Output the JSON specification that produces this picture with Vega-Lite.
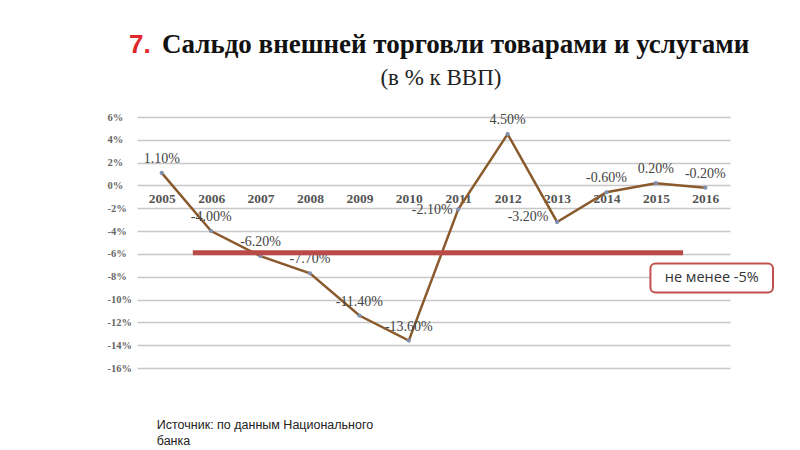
{
  "$schema": "https://vega.github.io/schema/vega-lite/v6.json",
  "width": 593,
  "height": 251,
  "autosize": "none",
  "padding": {"left": 137, "top": 117, "right": 70, "bottom": 82},
  "background": "white",
  "config": {
    "view": {"stroke": null},
    "locale": {"number": {"decimal": ".", "thousands": ",", "grouping": [3], "currency": ["$", ""], "minus": "-"}}
  },
  "layer": [
    {
      "data": {"values": [
        {"year": "2005", "v": 0.011},
        {"year": "2006", "v": -0.04},
        {"year": "2007", "v": -0.062},
        {"year": "2008", "v": -0.077},
        {"year": "2009", "v": -0.114},
        {"year": "2010", "v": -0.136},
        {"year": "2011", "v": -0.021},
        {"year": "2012", "v": 0.045},
        {"year": "2013", "v": -0.032},
        {"year": "2014", "v": -0.006},
        {"year": "2015", "v": 0.002},
        {"year": "2016", "v": -0.002}
      ]},
      "encoding": {
        "x": {
          "field": "year", "type": "ordinal",
          "axis": {"orient": "bottom", "offset": -182, "title": null, "domain": false, "ticks": false, "labelAngle": 0, "labelPadding": 5, "labelFont": "Liberation Serif", "labelFontSize": 13.5, "labelFontWeight": "bold", "labelColor": "#555555", "grid": false}
        },
        "y": {
          "field": "v", "type": "quantitative",
          "scale": {"domain": [-0.16, 0.06], "nice": false, "zero": false},
          "axis": {"title": null, "values": [-0.16, -0.14, -0.12, -0.1, -0.08, -0.06, -0.04, -0.02, 0, 0.02, 0.04, 0.06], "format": ".0%", "labelOverlap": false, "labelBound": false, "grid": true, "gridColor": "#c8c8c8", "gridWidth": 1.5, "domain": false, "ticks": false, "labelAlign": "left", "labelPadding": 30, "labelFont": "Liberation Serif", "labelFontSize": 10.5, "labelFontWeight": "bold", "labelColor": "#666666"}
        }
      },
      "layer": [
        {"mark": {"type": "line", "color": "#8a5a2c", "strokeWidth": 2.5}},
        {"mark": {"type": "point", "filled": true, "size": 18, "color": "#7f8fb0", "opacity": 1}},
        {
          "transform": [{"filter": "datum.year != '2011' && datum.year != '2013'"}],
          "mark": {"type": "text", "dy": -14, "font": "Liberation Serif", "fontSize": 14, "color": "#444444"},
          "encoding": {"text": {"field": "v", "type": "quantitative", "format": ".2%"}}
        },
        {
          "transform": [{"filter": "datum.year == '2011'"}],
          "mark": {"type": "text", "dx": -26, "dy": 1, "font": "Liberation Serif", "fontSize": 14, "color": "#444444"},
          "encoding": {"text": {"field": "v", "type": "quantitative", "format": ".2%"}}
        },
        {
          "transform": [{"filter": "datum.year == '2013'"}],
          "mark": {"type": "text", "dx": -29, "dy": -5, "font": "Liberation Serif", "fontSize": 14, "color": "#444444"},
          "encoding": {"text": {"field": "v", "type": "quantitative", "format": ".2%"}}
        }
      ]
    },
    {
      "encoding": {
        "x": {"type": "quantitative", "scale": {"domain": [0, 12], "nice": false, "zero": false}, "axis": null},
        "y": {"type": "quantitative", "scale": {"domain": [-0.16, 0.06], "nice": false, "zero": false}, "axis": null}
      },
      "layer": [
        {
          "data": {"values": [{"x1": 1.13, "x2": 11.05, "y": -0.059}]},
          "mark": {"type": "rule", "color": "#b94a47", "strokeWidth": 5},
          "encoding": {
            "x": {"field": "x1", "type": "quantitative"},
            "x2": {"field": "x2"},
            "y": {"field": "y", "type": "quantitative"}
          }
        },
        {
          "data": {"values": [{"x1": 10.39, "x2": 12.87, "y1": -0.0684, "y2": -0.0938}]},
          "mark": {"type": "rect", "fill": "white", "stroke": "#c0504d", "strokeWidth": 2, "cornerRadius": 5},
          "encoding": {
            "x": {"field": "x1", "type": "quantitative"},
            "x2": {"field": "x2"},
            "y": {"field": "y1", "type": "quantitative"},
            "y2": {"field": "y2"}
          }
        },
        {
          "data": {"values": [{"x": 11.63, "y": -0.081, "t": "не менее -5%"}]},
          "mark": {"type": "text", "font": "Open Sans", "fontSize": 14.5, "color": "#333333", "baseline": "middle", "align": "center"},
          "encoding": {
            "x": {"field": "x", "type": "quantitative"},
            "y": {"field": "y", "type": "quantitative"},
            "text": {"field": "t"}
          }
        },
        {
          "data": {"values": [{"x": -0.16, "y": 0.1161, "t": "7."}]},
          "mark": {"type": "text", "font": "Liberation Sans", "fontSize": 26, "fontWeight": "bold", "color": "#e0262b", "baseline": "alphabetic", "align": "left"},
          "encoding": {
            "x": {"field": "x", "type": "quantitative"},
            "y": {"field": "y", "type": "quantitative"},
            "text": {"field": "t"}
          }
        },
        {
          "data": {"values": [{"x": 0.506, "y": 0.1161, "t": "Сальдо внешней торговли товарами и услугами"}]},
          "mark": {"type": "text", "font": "Liberation Serif", "fontSize": 27, "fontWeight": "bold", "color": "#111111", "baseline": "alphabetic", "align": "left"},
          "encoding": {
            "x": {"field": "x", "type": "quantitative"},
            "y": {"field": "y", "type": "quantitative"},
            "text": {"field": "t"}
          }
        },
        {
          "data": {"values": [{"x": 6.15, "y": 0.088, "t": "(в % к ВВП)"}]},
          "mark": {"type": "text", "font": "Liberation Serif", "fontSize": 23, "color": "#222222", "baseline": "alphabetic", "align": "center"},
          "encoding": {
            "x": {"field": "x", "type": "quantitative"},
            "y": {"field": "y", "type": "quantitative"},
            "text": {"field": "t"}
          }
        },
        {
          "data": {"values": [{"x": 0.4, "y": -0.2138, "t": "Источник: по данным Национального\nбанка"}]},
          "mark": {"type": "text", "font": "Liberation Sans", "fontSize": 12.5, "color": "#222222", "baseline": "alphabetic", "align": "left", "lineBreak": "\n", "lineHeight": 16},
          "encoding": {
            "x": {"field": "x", "type": "quantitative"},
            "y": {"field": "y", "type": "quantitative"},
            "text": {"field": "t"}
          }
        }
      ]
    }
  ],
  "resolve": {"scale": {"x": "independent", "y": "independent"}}
}
